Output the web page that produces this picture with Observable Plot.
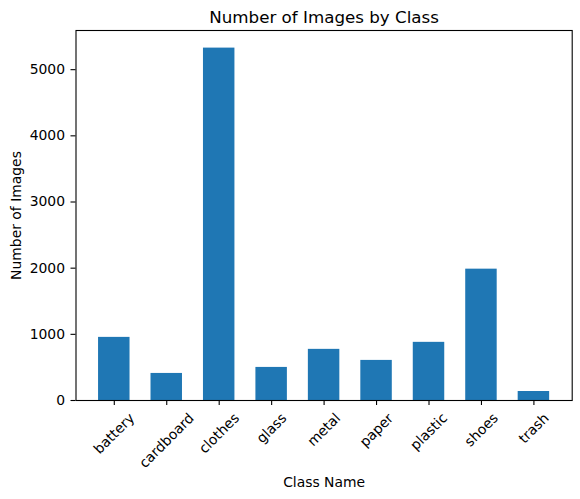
<!DOCTYPE html>
<html><head><meta charset="utf-8">
<script src="https://cdn.jsdelivr.net/npm/d3@7"></script>
<script src="https://cdn.jsdelivr.net/npm/@observablehq/plot@0.6"></script>
<style>body{margin:0;background:#fff}</style>
</head><body>
<div id="chart"></div>
<script>
const classes = ["battery","cardboard","clothes","glass","metal","paper","plastic","shoes","trash"];
const counts = [954, 409, 5326, 500, 773, 606, 879, 1985, 136];
const yTicks = [0, 1000, 2000, 3000, 4000, 5000];
const title = "Number of Images by Class";
const xLabel = "Class Name";
const yLabel = "Number of Images";

const data = classes.map((c, i) => ({cls: c, count: counts[i]}));
const font = "DejaVu Sans";

const chart = Plot.plot({
  width: 580, height: 499,
  marginLeft: 75.5, marginRight: 8.3, marginTop: 30, marginBottom: 99,
  style: {fontFamily: font, fontSize: "13.9px", background: "#fff", color: "#000"},
  x: {domain: classes, type: "band", paddingInner: 0.4, paddingOuter: 0.43, round: false},
  y: {domain: [0, 5592]},
  marks: [
    Plot.barY(data, {x: "cls", y: "count", fill: "#1f77b4"}),
    Plot.axisY({ticks: yTicks, tickSize: 5, tickPadding: 6, tickFormat: d => String(d), fontSize: 13.9, label: null, strokeWidth: 1.1}),
    Plot.axisX({tickSize: 5, tickFormat: () => "", label: null, strokeWidth: 1.1}),
    Plot.text(classes, {x: d => d, frameAnchor: "bottom", rotate: -45, textAnchor: "middle", lineAnchor: "middle", fontSize: 13.9, fill: "#000"}),
    Plot.text([title], {frameAnchor: "top", dy: -8, lineAnchor: "bottom", fontSize: 16.7, fill: "#000"}),
    Plot.text([xLabel], {frameAnchor: "bottom", dy: 86, lineAnchor: "bottom", fontSize: 13.9, fill: "#000"}),
    Plot.text([yLabel], {frameAnchor: "left", dx: -59, rotate: -90, textAnchor: "middle", lineAnchor: "middle", fontSize: 13.9, fill: "#000"}),
    Plot.frame({stroke: "#000", strokeWidth: 1.1})
  ]
});
document.getElementById("chart").append(chart);
const svg = chart.tagName.toLowerCase() === "svg" ? chart : chart.querySelector("svg");
const svgRect = svg.getBoundingClientRect();
const targetTop = 409.7;
svg.querySelectorAll("text").forEach(t => {
  if (!classes.includes(t.textContent)) return;
  const r = t.getBoundingClientRect();
  const dy = targetTop - (r.top - svgRect.top);
  t.setAttribute("transform", `translate(0,${dy.toFixed(2)}) ` + (t.getAttribute("transform") || ""));
});
</script>
</body></html>
